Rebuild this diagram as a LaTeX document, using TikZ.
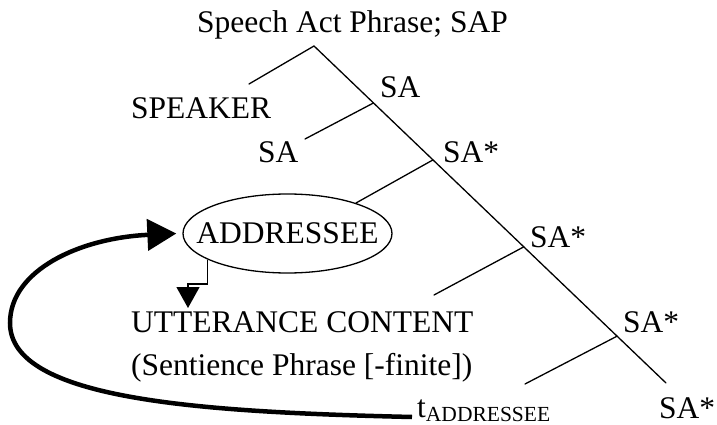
\documentclass[tikz,border=0pt]{standalone}
\usepackage{fontspec}
\setmainfont{Liberation Serif}
\usetikzlibrary{shapes.geometric,arrows.meta,calc}
\begin{document}
\begin{tikzpicture}[x=1pt,y=-1pt,
  lbl/.style={anchor=base west, inner sep=0pt, font=\fontsize{31.5}{36}\selectfont},
  branch/.style={line width=1.3pt, line cap=round},
  bigarrow/.style={line width=4.5pt, -{Triangle[length=29pt,width=31pt]}},
  smallarrow/.style={line width=1.3pt, -{Triangle[length=21pt,width=23pt]}},
  ]
\useasboundingbox (0,0) rectangle (717,425);
% labels
\node[lbl] (sap) at (197,33) {Speech Act Phrase; SAP};
\node[lbl] (spk) at (131,119) {SPEAKER};
\node[lbl] (sa1) at (380,98) {SA};
\node[lbl] (sa2) at (258,162) {SA};
\node[lbl] (sas1) at (443,162) {SA*};
\node[draw, ellipse, line width=1.3pt, minimum width=209pt, minimum height=79pt, inner sep=0pt,
      font=\fontsize{31.5}{36}\selectfont] (addr) at (287.5,233.5) {\raisebox{-3pt}{\makebox[0pt]{ADDRESSEE}}};
\node[lbl] (sas2) at (530,247) {SA*};
\node[lbl] (utt) at (131,332) {UTTERANCE CONTENT};
\node[lbl] (sent) at (131,375) {(Sentience Phrase [-finite])};
\node[lbl] (sas3) at (623,332) {SA*};
\node[lbl] (tadd) at (417,417) {t\raisebox{-4pt}{\fontsize{21.5}{24}\selectfont ADDRESSEE}};
\node[lbl] (sas4) at (659,418) {SA*};
% tree coordinates
\coordinate (apex) at (314,46);
\coordinate (bot) at (666,383);
\coordinate (j1) at ($(apex)!0.169!(bot)$);
\coordinate (j2) at ($(apex)!0.338!(bot)$);
\coordinate (j3) at ($(apex)!0.596!(bot)$);
\coordinate (j4) at ($(apex)!0.861!(bot)$);
\coordinate (b0) at (249,84);
\coordinate (b1) at (305,139);
\coordinate (b3) at (434,295);
\coordinate (b4) at (525,384);
\draw[branch] (apex) -- (j1) -- (j2) -- (j3) -- (j4) -- (bot);
\draw[branch] (apex) -- (b0);
\draw[branch] (j1) -- (b1);
\draw[branch] (j2) -- (addr.24);
\draw[branch] (j3) -- (b3);
\draw[branch] (j4) -- (b4);
% arrows
\coordinate (uttarrow) at (188,308);
\draw[smallarrow] (addr.198) |- (188,284) -- (uttarrow);
\coordinate (tstart) at ($(tadd.base west)+(-5,0)$);
\draw[bigarrow] (tstart) .. controls (200,412) and (10,400) .. (10,323)
   .. controls (10,270) and (80,238) .. ($(addr.west)+(-6,0)$);
\end{tikzpicture}
\end{document}
